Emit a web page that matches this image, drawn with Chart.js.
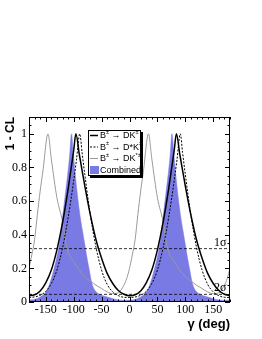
<!DOCTYPE html>
<html>
<head>
<meta charset="utf-8">
<script src="https://cdn.jsdelivr.net/npm/chart.js@4"></script>
<style>
  html, body { margin: 0; padding: 0; background: #fff; }
  canvas { display: block; }
</style>
</head>
<body>
<canvas id="cl" width="262" height="339"></canvas>
<script>
// B -> DK
const dkX = [-180, -170, -160, -150, -140, -130, -120, -115, -110, -105, -100, -96, -90, -85, -80, -75, -70, -60, -50, -40, -30, -20, -10,
  0, 10, 20, 30, 40, 50, 60, 65, 70, 75, 80, 84, 90, 95, 100, 105, 110, 120, 130, 140, 150, 160, 170, 180];
const dkY = [0.037, 0.043, 0.066, 0.114, 0.19, 0.31, 0.47, 0.565, 0.67, 0.785, 0.90, 1.0, 0.88, 0.784, 0.689, 0.60, 0.516, 0.37, 0.26, 0.17, 0.11, 0.068, 0.046,
  0.037, 0.043, 0.066, 0.114, 0.19, 0.31, 0.47, 0.565, 0.67, 0.785, 0.90, 1.0, 0.88, 0.784, 0.689, 0.60, 0.516, 0.37, 0.26, 0.17, 0.11, 0.068, 0.046, 0.037];

// B -> D*K
const dstarX = [-180, -170, -160, -150, -140, -130, -120, -110, -100, -95, -89, -85, -80, -70, -60, -50, -40, -30, -20, -10,
  0, 10, 20, 30, 40, 50, 60, 70, 80, 85, 91, 95, 100, 110, 120, 130, 140, 150, 160, 170, 180];
const dstarY = [0.027, 0.03, 0.04, 0.063, 0.11, 0.19, 0.32, 0.50, 0.72, 0.845, 1.0, 0.89, 0.757, 0.515, 0.325, 0.19, 0.105, 0.06, 0.038, 0.028,
  0.027, 0.03, 0.04, 0.063, 0.11, 0.19, 0.32, 0.50, 0.72, 0.845, 1.0, 0.89, 0.757, 0.515, 0.325, 0.19, 0.105, 0.06, 0.038, 0.028, 0.027];

// B -> DK*
const dkstarX = [-180, -175, -170, -165, -160, -155, -146, -140, -130, -120, -112, -100, -90, -80, -70, -60, -50, -40, -30, -20, -10, -5,
  0, 5, 10, 15, 20, 25, 34, 40, 50, 60, 68, 80, 90, 100, 110, 120, 130, 140, 150, 160, 170, 175, 180];
const dkstarY = [0.2, 0.28, 0.37, 0.52, 0.66, 0.78, 1.0, 0.85, 0.62, 0.48, 0.32, 0.24, 0.19, 0.15, 0.125, 0.10, 0.08, 0.06, 0.05, 0.055, 0.10, 0.14,
  0.2, 0.28, 0.37, 0.52, 0.66, 0.78, 1.0, 0.85, 0.62, 0.48, 0.32, 0.24, 0.19, 0.15, 0.125, 0.10, 0.08, 0.06, 0.05, 0.055, 0.10, 0.14, 0.2];

// Combined
const combX = [-180, -170, -160, -152, -145, -140, -135, -130, -125, -120, -115, -110, -107, -104, -100, -96, -92, -88, -84, -80, -76, -72, -68, -64, -58, -50, -40, -30, -20, -10,
  0, 10, 20, 28, 35, 40, 45, 50, 55, 60, 65, 70, 73, 76, 80, 84, 88, 92, 96, 100, 104, 108, 112, 116, 122, 130, 140, 150, 160, 170, 180];
const combY = [0.012, 0.015, 0.03, 0.05, 0.09, 0.14, 0.2, 0.27, 0.36, 0.5, 0.64, 0.78, 0.88, 1.0, 0.86, 0.72, 0.6, 0.5, 0.42, 0.34, 0.26, 0.19, 0.12, 0.08, 0.055, 0.04, 0.03, 0.02, 0.012, 0.01,
  0.012, 0.015, 0.03, 0.05, 0.09, 0.14, 0.2, 0.27, 0.36, 0.5, 0.64, 0.78, 0.88, 1.0, 0.86, 0.72, 0.6, 0.5, 0.42, 0.34, 0.26, 0.19, 0.12, 0.08, 0.055, 0.04, 0.03, 0.02, 0.012, 0.01, 0.012];

const seriesNames = ['B^{\u00b1} \u2192 DK^{\u00b1}', 'B^{\u00b1} \u2192 D*K^{\u00b1}', 'B^{\u00b1} \u2192 DK^{*\u00b1}', 'Combined'];
const sigmaLevels = [0.3173, 0.0455];
const sigmaLabels = ['1\u03c3', '2\u03c3'];
const xTicks = [-150, -100, -50, 0, 50, 100, 150];
const yTicks = [0, 0.2, 0.4, 0.6, 0.8, 1];

const toPts = (xs, ys) => xs.map((x, i) => ({ x: x, y: ys[i] }));
const blue = 'rgb(122,122,228)';
const gray = '#999';

const datasets = [
  { data: toPts(dkX, dkY), borderColor: '#000', borderWidth: 1.5, order: 1 },
  { data: toPts(dstarX, dstarY), borderColor: '#000', borderWidth: 1, borderDash: [2, 1.5], order: 2 },
  { data: toPts(dkstarX, dkstarY), borderColor: gray, borderWidth: 1, order: 3 },
  { data: toPts(combX, combY), borderColor: blue, borderWidth: 0.5, backgroundColor: blue, fill: 'origin', order: 4 }
];
sigmaLevels.forEach(s => {
  datasets.push({ data: [{ x: -180, y: s }, { x: 180, y: s }], borderColor: '#000', borderWidth: 0.8, borderDash: [3, 2], order: 0 });
});
datasets.forEach(d => { d.pointRadius = 0; d.cubicInterpolationMode = 'monotone'; if (!d.fill) d.fill = false; });

// draw "B^{x}" style text with superscripts
function drawRich(ctx, str, x, y, size, family) {
  const parts = str.split(/(\^\{[^}]*\})/).filter(p => p.length);
  parts.forEach(p => {
    const sup = p.startsWith('^{');
    const t = sup ? p.slice(2, -1) : p;
    ctx.font = (sup ? size * 0.62 : size) + 'px ' + family;
    ctx.fillText(t, x, sup ? y - size * 0.4 : y);
    x += ctx.measureText(t).width;
  });
}

const framePlugin = {
  id: 'frame',
  afterDraw(chart) {
    const { ctx, chartArea: a, scales: { x, y } } = chart;
    ctx.save();
    ctx.strokeStyle = '#000';
    ctx.lineWidth = 1;
    ctx.strokeRect(a.left + 0.5, a.top + 0.5, a.right - a.left - 1, a.bottom - a.top - 1);

    // ticks inside the frame
    ctx.beginPath();
    for (let v = -180; v <= 180; v += 10) {
      const px = Math.round(x.getPixelForValue(v)) + 0.5;
      const len = v % 50 === 0 ? 5 : 2.5;
      ctx.moveTo(px, a.bottom); ctx.lineTo(px, a.bottom - len);
      ctx.moveTo(px, a.top); ctx.lineTo(px, a.top + len);
    }
    for (let i = 0; i <= 22; i++) {
      const py = Math.round(y.getPixelForValue(i * 0.05)) + 0.5;
      const len = i % 4 === 0 ? 5 : 2.5;
      ctx.moveTo(a.left, py); ctx.lineTo(a.left + len, py);
      ctx.moveTo(a.right, py); ctx.lineTo(a.right - len, py);
    }
    ctx.stroke();

    // tick labels
    ctx.fillStyle = '#000';
    ctx.font = '12px "Liberation Serif"';
    ctx.textAlign = 'center';
    ctx.textBaseline = 'top';
    xTicks.forEach(v => ctx.fillText(String(v), x.getPixelForValue(v), a.bottom + 2));
    ctx.textAlign = 'right';
    ctx.textBaseline = 'middle';
    yTicks.forEach(v => ctx.fillText(v === 0 ? '0' : v === 1 ? '1' : v.toFixed(1), a.left - 2, y.getPixelForValue(v)));

    // sigma labels
    ctx.textAlign = 'left';
    ctx.textBaseline = 'alphabetic';
    sigmaLabels.forEach((s, i) => ctx.fillText(s, 214, y.getPixelForValue(sigmaLevels[i]) - 3));

    // axis titles
    ctx.font = 'bold 13px "Liberation Sans"';
    ctx.textAlign = 'right';
    ctx.fillText('\u03b3 (deg)', a.right, 328);
    ctx.save();
    ctx.translate(13.5, a.top);
    ctx.rotate(-Math.PI / 2);
    ctx.font = 'bold 12px "Liberation Sans"';
    ctx.fillText('1 - CL', 0, 0);
    ctx.restore();

    // legend
    const lx = 88, ly = 130, lw = 53, lh = 46;
    ctx.fillStyle = '#000';
    ctx.fillRect(lx + 2, ly + 2, lw, lh);
    ctx.fillStyle = '#fff';
    ctx.fillRect(lx, ly, lw, lh);
    ctx.strokeRect(lx + 0.5, ly + 0.5, lw - 1, lh - 1);
    const rows = [135.5, 147, 158.5, 170];
    const styles = [
      { c: '#000', w: 1.5, d: [] },
      { c: '#000', w: 1, d: [2, 1.5] },
      { c: gray, w: 1, d: [] }
    ];
    rows.forEach((ry, i) => {
      if (i < 3) {
        ctx.beginPath();
        ctx.strokeStyle = styles[i].c;
        ctx.lineWidth = styles[i].w;
        ctx.setLineDash(styles[i].d);
        ctx.moveTo(90, ry); ctx.lineTo(98, ry);
        ctx.stroke();
        ctx.setLineDash([]);
      } else {
        ctx.fillStyle = blue;
        ctx.fillRect(90, ry - 4, 9, 8);
      }
      ctx.fillStyle = '#000';
      ctx.textAlign = 'left';
      ctx.textBaseline = 'middle';
      drawRich(ctx, seriesNames[i], 100, ry + 0.5, 9, '"Liberation Sans"');
    });
    ctx.restore();
  }
};

new Chart(document.getElementById('cl').getContext('2d'), {
  type: 'line',
  data: { datasets },
  options: {
    responsive: false,
    animation: false,
    devicePixelRatio: 1,
    layout: { padding: { left: 29, right: 32, top: 117, bottom: 37 } },
    scales: {
      x: { type: 'linear', min: -180, max: 180, display: false },
      y: { min: 0, max: 1.1, display: false }
    },
    plugins: { legend: { display: false }, tooltip: { enabled: false } }
  },
  plugins: [framePlugin]
});
</script>
</body>
</html>
